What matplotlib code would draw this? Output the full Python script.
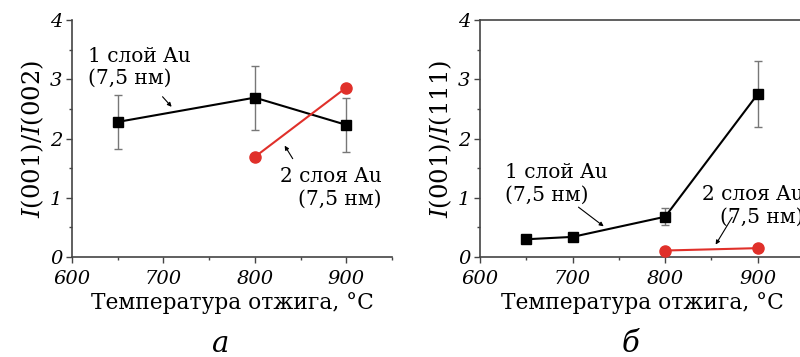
import matplotlib
matplotlib.use("Agg")
import matplotlib.pyplot as plt
from matplotlib.ticker import MultipleLocator
from matplotlib.font_manager import FontProperties

plt.rcParams['font.family'] = ['DejaVu Serif']
plt.rcParams['mathtext.fontset'] = 'dejavuserif'

# Annealing temperature, °C
temp_1layer_a = [650, 800, 900]
ratio_1layer_a = [2.28, 2.69, 2.23]
err_1layer_a = [0.46, 0.54, 0.45]
temp_2layer_a = [800, 900]
ratio_2layer_a = [1.69, 2.86]

temp_1layer_b = [650, 700, 800, 900]
ratio_1layer_b = [0.30, 0.34, 0.68, 2.75]
err_1layer_b = [0.0, 0.0, 0.14, 0.55]
temp_2layer_b = [800, 900]
ratio_2layer_b = [0.11, 0.15]

xticks = [600, 700, 800, 900]
yticks = [0, 1, 2, 3, 4]
xlabel = 'Температура отжига, °С'
ylabels = [r'$I$(001)/$I$(002)', r'$I$(001)/$I$(111)']
label_1 = '1 слой Au\n(7,5 нм)'
label_2 = '2 слоя Au\n(7,5 нм)'
captions = ['а', 'б']

RED = '#e0302a'
SPINE = '#444444'
tick_font = FontProperties(family='DejaVu Serif', style='italic', size=14)

fig = plt.figure(figsize=(8, 3.57), dpi=100)
ax_a = fig.add_axes([0.09, 0.28, 0.40, 0.664])
ax_b = fig.add_axes([0.60, 0.28, 0.405, 0.664])


def style_axes(ax, boxed):
    ax.set_xlim(600, 950)
    ax.set_ylim(0, 4)
    ax.xaxis.set_minor_locator(MultipleLocator(50))
    ax.yaxis.set_minor_locator(MultipleLocator(0.5))
    ax.tick_params(axis='x', which='major', direction='out', length=4, width=1,
                   color=SPINE, pad=5)
    ax.tick_params(axis='y', which='major', direction='out', length=4, width=1,
                   color=SPINE, pad=3)
    ax.tick_params(which='minor', direction='out', length=2.5, width=1, color=SPINE)
    ax.set_xticks(xticks)
    ax.set_yticks(yticks)
    ax.set_xticklabels([str(t) for t in xticks], fontproperties=tick_font)
    ax.set_yticklabels([str(t) for t in yticks], fontproperties=tick_font)
    for s in ax.spines.values():
        s.set_color(SPINE)
        s.set_linewidth(1.2)
    ax.spines['top'].set_visible(boxed)
    ax.spines['right'].set_visible(boxed)
    ax.set_xlabel(xlabel, fontsize=15.7, labelpad=3)


def draw(ax, t1, r1, e1, t2, r2):
    ax.errorbar(t1, r1, yerr=e1, fmt='none', ecolor='#777777', elinewidth=1,
                capsize=3, capthick=1, zorder=2)
    ax.plot(t1, r1, color='black', lw=1.5, marker='s', ms=7,
            markerfacecolor='black', zorder=3)
    ax.plot(t2, r2, color=RED, lw=1.5, marker='o', ms=8,
            markerfacecolor=RED, markeredgecolor=RED, zorder=3)


draw(ax_a, temp_1layer_a, ratio_1layer_a, err_1layer_a, temp_2layer_a, ratio_2layer_a)
draw(ax_b, temp_1layer_b, ratio_1layer_b, err_1layer_b, temp_2layer_b, ratio_2layer_b)

style_axes(ax_a, boxed=False)
style_axes(ax_b, boxed=True)

ax_a.set_ylabel(ylabels[0], fontsize=17.5, labelpad=3)
ax_b.set_ylabel(ylabels[1], fontsize=17.5, labelpad=3)

arrow = dict(arrowstyle='-|>', color='black', lw=0.8, mutation_scale=6)
txt = dict(fontsize=14.5, linespacing=1.25)

# panel a annotations
ax_a.annotate('', xy=(711, 2.50), xytext=(697, 2.74), arrowprops=arrow)
ax_a.text(617, 3.20, label_1, ha='left', va='center', **txt)
ax_a.annotate('', xy=(831, 1.92), xytext=(843, 1.62), arrowprops=arrow)
ax_a.text(939, 1.17, label_2, ha='right', va='center', **txt)

# panel b annotations
ax_b.annotate('', xy=(736, 0.49), xytext=(704, 0.87), arrowprops=arrow)
ax_b.text(627, 1.24, label_1, ha='left', va='center', **txt)
ax_b.annotate('', xy=(853, 0.17), xytext=(874, 0.71), arrowprops=arrow)
ax_b.text(950, 0.87, label_2, ha='right', va='center', **txt)

fig.text(0.275, 0.015, captions[0], fontsize=21, style='italic', ha='center')
fig.text(0.788, 0.015, captions[1], fontsize=21, style='italic', ha='center')

fig.savefig('out.png', dpi=100)
